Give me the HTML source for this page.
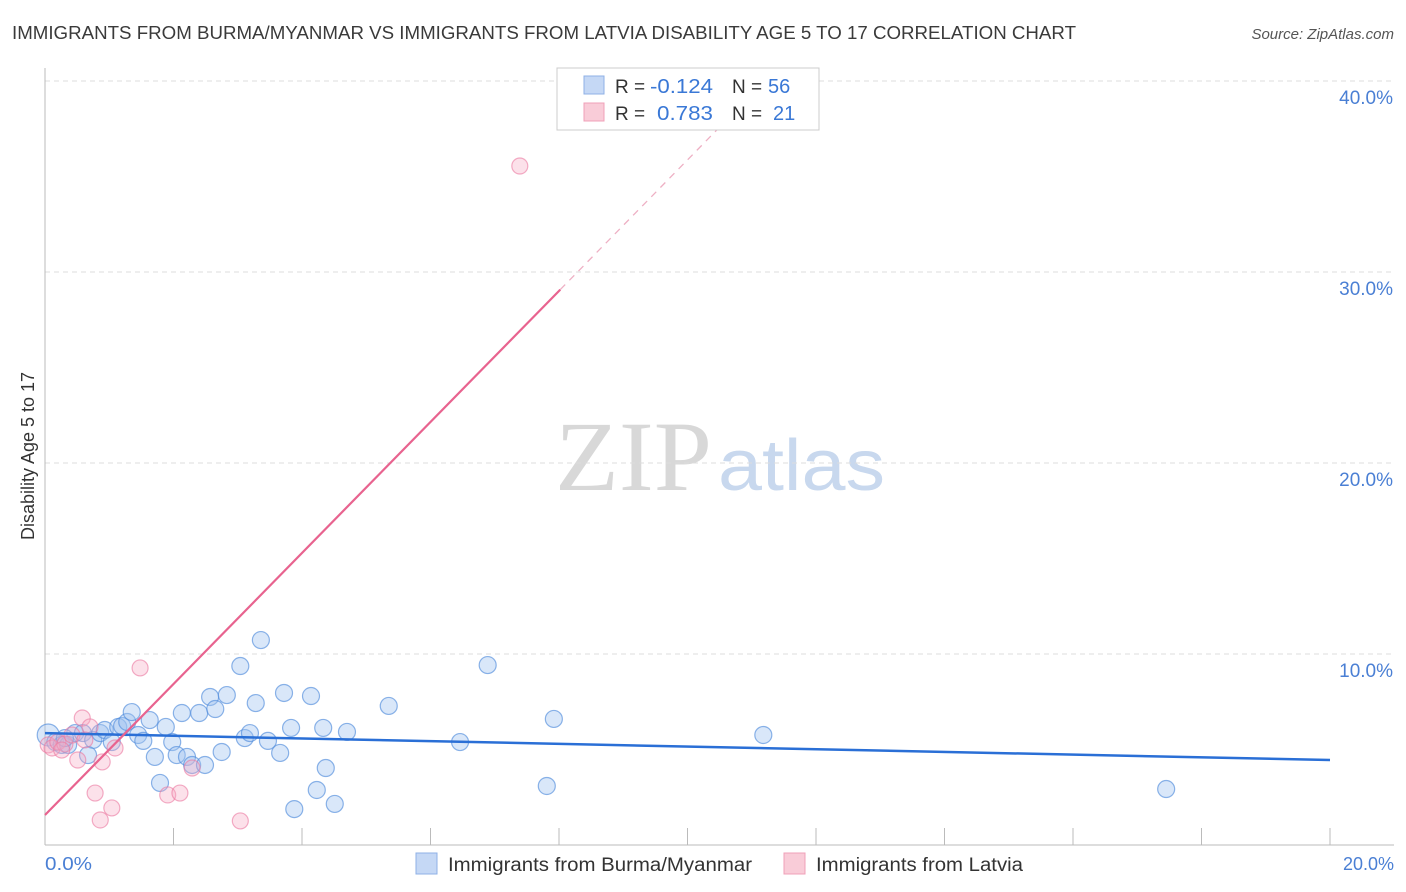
<!DOCTYPE html>
<html><head><meta charset="utf-8"><style>
body{margin:0;background:#fff;font-family:"Liberation Sans",sans-serif;}
svg{display:block}
</style></head><body>
<svg width="1406" height="892">
<text x="12" y="39" font-size="18" fill="#3a3a3a" textLength="1064" lengthAdjust="spacingAndGlyphs">IMMIGRANTS FROM BURMA/MYANMAR VS IMMIGRANTS FROM LATVIA DISABILITY AGE 5 TO 17 CORRELATION CHART</text>
<text x="1394" y="39" font-size="15" font-style="italic" fill="#555" text-anchor="end">Source: ZipAtlas.com</text>
<g><text x="555" y="490" font-size="100" font-family="Liberation Serif,serif" fill="#d8d8d8" textLength="157" lengthAdjust="spacingAndGlyphs">ZIP</text><text x="718" y="490" font-size="72" fill="#c8d8ee" textLength="167" lengthAdjust="spacingAndGlyphs">atlas</text></g>
<g id="grid"></g>
<line x1="45" y1="68" x2="45" y2="845" stroke="#bbb"/>
<line x1="45" y1="845" x2="1394" y2="845" stroke="#bbb"/>
<g id="ticks"></g>
<text x="34" y="456" font-size="18" fill="#333" transform="rotate(-90 34 456)" text-anchor="middle">Disability Age 5 to 17</text>
<text x="45" y="870" font-size="18" fill="#4a7fd4" textLength="47" lengthAdjust="spacingAndGlyphs">0.0%</text>
<text x="1394" y="870" font-size="18" fill="#4a7fd4" text-anchor="end">20.0%</text>
<g id="pts"></g>
<g id="lines"></g>
<g>
<rect x="557" y="68" width="262" height="62" fill="#fff" stroke="#ccc"/>
<rect x="584" y="76" width="20" height="18" fill="#c5d8f5" stroke="#8fb0e6"/>
<rect x="584" y="103" width="20" height="18" fill="#f9ccd8" stroke="#f0a0b8"/>
<text x="615" y="93" font-size="19" fill="#333">R =</text>
<text x="650" y="93" font-size="20" fill="#3a78d6" textLength="63" lengthAdjust="spacingAndGlyphs">-0.124</text>
<text x="732" y="93" font-size="19" fill="#333">N =</text>
<text x="768" y="93" font-size="20" fill="#3a78d6">56</text>
<text x="615" y="120" font-size="19" fill="#333">R =</text>
<text x="657" y="120" font-size="20" fill="#3a78d6" textLength="56" lengthAdjust="spacingAndGlyphs">0.783</text>
<text x="732" y="120" font-size="19" fill="#333">N =</text>
<text x="773" y="120" font-size="20" fill="#3a78d6">21</text>
</g>
<g>
<rect x="416" y="853" width="21" height="21" fill="#c5d8f5" stroke="#8fb0e6"/>
<text x="448" y="871" font-size="19" fill="#333" textLength="304" lengthAdjust="spacingAndGlyphs">Immigrants from Burma/Myanmar</text>
<rect x="784" y="853" width="21" height="21" fill="#f9ccd8" stroke="#f0a0b8"/>
<text x="816" y="871" font-size="19" fill="#333" textLength="207" lengthAdjust="spacingAndGlyphs">Immigrants from Latvia</text>
</g>
</svg>
<script>
const yTicks=[10,20,30,40];
const yTickLabels=["10.0%","20.0%","30.0%","40.0%"];
const xTicks=[2,4,6,8,10,12,14,16,18,20];
const blueX=[0.05,0.16,0.26,0.36,0.47,0.59,0.75,0.86,0.93,1.04,1.14,1.20,1.28,1.35,1.45,1.53,1.63,1.71,1.79,1.88,1.98,2.05,2.13,2.21,2.29,2.40,2.49,2.57,2.65,2.75,2.83,3.04,3.11,3.19,3.28,3.36,3.47,3.66,3.72,3.83,3.88,4.14,4.23,4.33,4.37,4.51,4.70,5.35,6.46,6.89,7.81,7.92,11.18,17.45,0.31,0.67];
const blueY=[5.76,5.39,5.24,5.24,5.86,5.86,5.50,5.86,6.02,5.39,6.18,6.23,6.44,6.96,5.76,5.45,6.54,4.61,3.25,6.18,5.39,4.71,6.91,4.61,4.19,6.91,4.19,7.75,7.12,4.87,7.85,9.37,5.60,5.86,7.43,10.73,5.45,4.82,7.96,6.13,1.88,7.80,2.88,6.13,4.03,2.15,5.92,7.28,5.39,9.42,3.09,6.60,5.76,2.93,5.60,4.71];
const pinkX=[0.05,0.11,0.20,0.31,0.42,0.51,0.58,0.70,0.78,0.86,0.89,1.04,1.09,1.48,1.91,2.10,2.29,3.04,7.39,0.26,0.62];
const pinkY=[5.24,5.08,5.39,5.29,5.76,4.45,6.65,6.18,2.72,1.31,4.35,1.94,5.08,9.27,2.62,2.72,4.03,1.26,35.55,4.97,5.50];
const blueFit=[5.86,4.45];
const pinkFit=[1.57,3.43];
const X=v=>45+v*64.25, Y=v=>845-v*19.1;
const NS="http://www.w3.org/2000/svg";
function mk(t,a,p){const e=document.createElementNS(NS,t);for(const k in a)e.setAttribute(k,a[k]);p.appendChild(e);return e;}
const grid=document.getElementById('grid'),ticks=document.getElementById('ticks');
yTicks.forEach((t,i)=>{
 const l=mk('line',{x1:45,x2:1394,y1:Y(t),y2:Y(t),stroke:'#ddd','stroke-dasharray':'5,4'},grid);
 
 
 const tx=mk('text',{x:1393,y:Y(t)+23,'font-size':19,fill:'#4a7fd4','text-anchor':'end'},grid);
 tx.textContent=yTickLabels[i];
 
 
});
xTicks.forEach(t=>{
 const l=mk('line',{x1:X(t),x2:X(t),y1:828,y2:845,stroke:'#bbb'},ticks);
 
 
});
const pts=document.getElementById('pts');
blueX.forEach((x,i)=>{
 const c=mk('circle',{cx:X(x),cy:Y(blueY[i]),r:i==0?11:8.5,fill:'rgba(160,195,240,0.4)',stroke:'rgba(80,140,220,0.65)','stroke-width':1.2},pts);
 
 
});
pinkX.forEach((x,i)=>{
 const c=mk('circle',{cx:X(x),cy:Y(pinkY[i]),r:8,fill:'rgba(245,170,195,0.35)',stroke:'rgba(235,120,160,0.6)','stroke-width':1.2},pts);
 
 
});
const lines=document.getElementById('lines');
const bl=mk('line',{x1:X(0),y1:Y(blueFit[0]),x2:X(20),y2:Y(blueFit[1]),stroke:'#2a6fd6','stroke-width':2.5},lines);


const xs=8.02, xe=(40-pinkFit[0])/pinkFit[1];
const pl=mk('line',{x1:X(0),y1:Y(pinkFit[0]),x2:X(xs),y2:Y(pinkFit[0]+pinkFit[1]*xs),stroke:'#e8638f','stroke-width':2.2},lines);


const pd=mk('line',{x1:X(xs),y1:Y(pinkFit[0]+pinkFit[1]*xs),x2:X(xe),y2:Y(40),stroke:'#eeb0c4','stroke-width':1.3,'stroke-dasharray':'7,6'},lines);


</script>
</body></html>
